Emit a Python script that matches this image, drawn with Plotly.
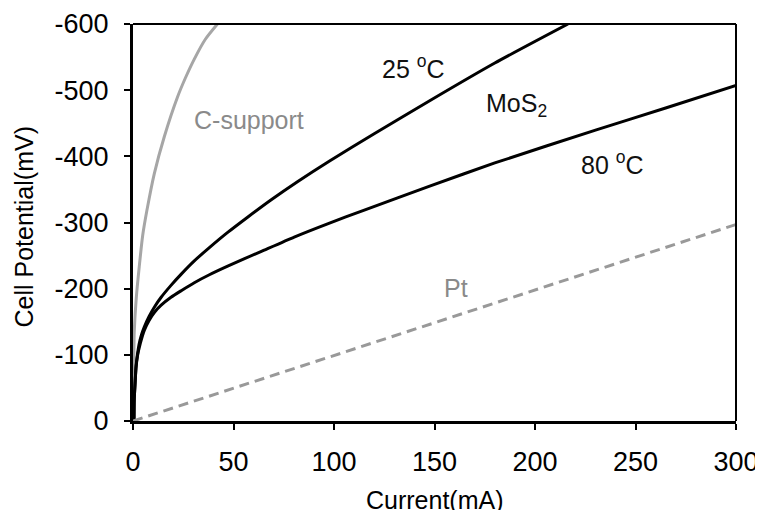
import plotly.graph_objects as go

# ---- data (Current in mA, Cell potential in mV) ----
c_support_x = [0, 0.3, 0.6, 1.6, 3.1, 4.8, 6.9, 10.6, 15.6, 22.2, 26, 30.5, 36, 42]
c_support_y = [0, -60, -133, -185, -233, -280, -318, -374, -430, -490, -518, -547, -577, -600]

mos2_25_x = [0.5, 0.6, 1.0, 1.5, 2.2, 3.1, 4.2, 5.6, 8, 10.6, 14, 18.9, 24, 30.5, 38,
             47.1, 57, 68.6, 82, 97.8, 120, 147.6, 180, 216.4]
mos2_25_y = [0, -32, -55, -82, -100, -117, -130, -142, -158, -172, -187, -205, -222, -242, -262,
             -285, -308, -334, -362, -393, -434, -484, -541, -600]

mos2_80_x = [0.5, 0.6, 1.0, 1.5, 2.2, 3.6, 5.6, 8, 10.6, 14, 18.9, 24, 30.5, 38,
             47.1, 63.6, 80.2, 96.8, 114.4, 147.6, 180, 230.5, 265, 300]
mos2_80_y = [0, -32, -55, -80, -98, -117, -137, -152, -164, -175, -187, -197, -209, -221,
             -234, -256, -278, -298, -318, -355, -390, -440, -473, -507]

pt_x = [0, 300]
pt_y = [0, -297]

x_ticks = [0, 50, 100, 150, 200, 250, 300]
x_tick_text = ["0", "50", "100", "150", "200", "250", "300"]
y_ticks = [0, -100, -200, -300, -400, -500, -600]
y_tick_text = ["0", "-100", "-200", "-300", "-400", "-500", "-600"]

labels = [
    ("C-support", 57.5, -455, "#8a8a8a"),
    ("25 <sup>o</sup>C", 139.6, -535, "#111111"),
    ("MoS<sub>2</sub>", 191.0, -477, "#111111"),
    ("80 <sup>o</sup>C", 238.6, -390, "#111111"),
    ("Pt", 160.5, -201, "#8a8a8a"),
]
x_title = "Current(mA)"
y_title = "Cell Potential(mV)"

FONT = "Liberation Sans, Arial, sans-serif"

fig = go.Figure()
fig.add_trace(go.Scatter(x=c_support_x, y=c_support_y, mode="lines",
                         line=dict(color="#a6a6a6", width=3, shape="spline", smoothing=0.6),
                         showlegend=False))
fig.add_trace(go.Scatter(x=mos2_25_x, y=mos2_25_y, mode="lines",
                         line=dict(color="#000000", width=3, shape="spline", smoothing=0.6),
                         showlegend=False))
fig.add_trace(go.Scatter(x=mos2_80_x, y=mos2_80_y, mode="lines",
                         line=dict(color="#000000", width=3, shape="spline", smoothing=0.6),
                         showlegend=False))
fig.add_trace(go.Scatter(x=pt_x, y=pt_y, mode="lines",
                         line=dict(color="#999999", width=3, dash="10px,6px"),
                         showlegend=False))

for text, x, y, col in labels:
    fig.add_annotation(x=x, y=y, text=text, showarrow=False,
                       font=dict(family=FONT, size=25, color=col))

# axis titles
fig.add_annotation(xref="paper", yref="paper", x=0.5, y=0, yanchor="middle", yshift=-79,
                   text=x_title, showarrow=False, font=dict(family=FONT, size=25, color="black"))
fig.add_annotation(xref="paper", yref="paper", x=0, y=0.5, xanchor="center", xshift=-110,
                   yshift=-5, textangle=-90,
                   text=y_title, showarrow=False, font=dict(family=FONT, size=25, color="black"))

# thinner top/right frame
fig.add_shape(type="line", xref="paper", yref="paper", x0=0, x1=1, y0=1, y1=1,
              line=dict(color="black", width=2))
fig.add_shape(type="line", xref="paper", yref="paper", x0=1, x1=1, y0=0, y1=1,
              line=dict(color="black", width=2))

# page body has an 8px margin, so the figure is sized/offset to compensate
fig.update_layout(
    width=755, height=502,
    margin=dict(l=125, r=27, t=16, b=89, autoexpand=False),
    paper_bgcolor="white", plot_bgcolor="white",
    font=dict(family=FONT, color="black"),
    xaxis=dict(range=[0, 300], tickvals=x_ticks, ticktext=x_tick_text, automargin=False,
               showgrid=False, zeroline=False, showline=True, linecolor="black", linewidth=3,
               ticks="outside", ticklen=6, tickwidth=1.5, tickcolor="black",
               tickfont=dict(size=27, family=FONT), ticklabelstandoff=9,
               ticklabeloverflow="allow"),
    yaxis=dict(range=[0, -600], tickvals=y_ticks, ticktext=y_tick_text, automargin=False,
               showgrid=False, zeroline=False, showline=True, linecolor="black", linewidth=3,
               ticks="outside", ticklen=6, tickwidth=1.5, tickcolor="black",
               tickfont=dict(size=27, family=FONT), ticklabelstandoff=10),
)

fig.write_html("out.html")
